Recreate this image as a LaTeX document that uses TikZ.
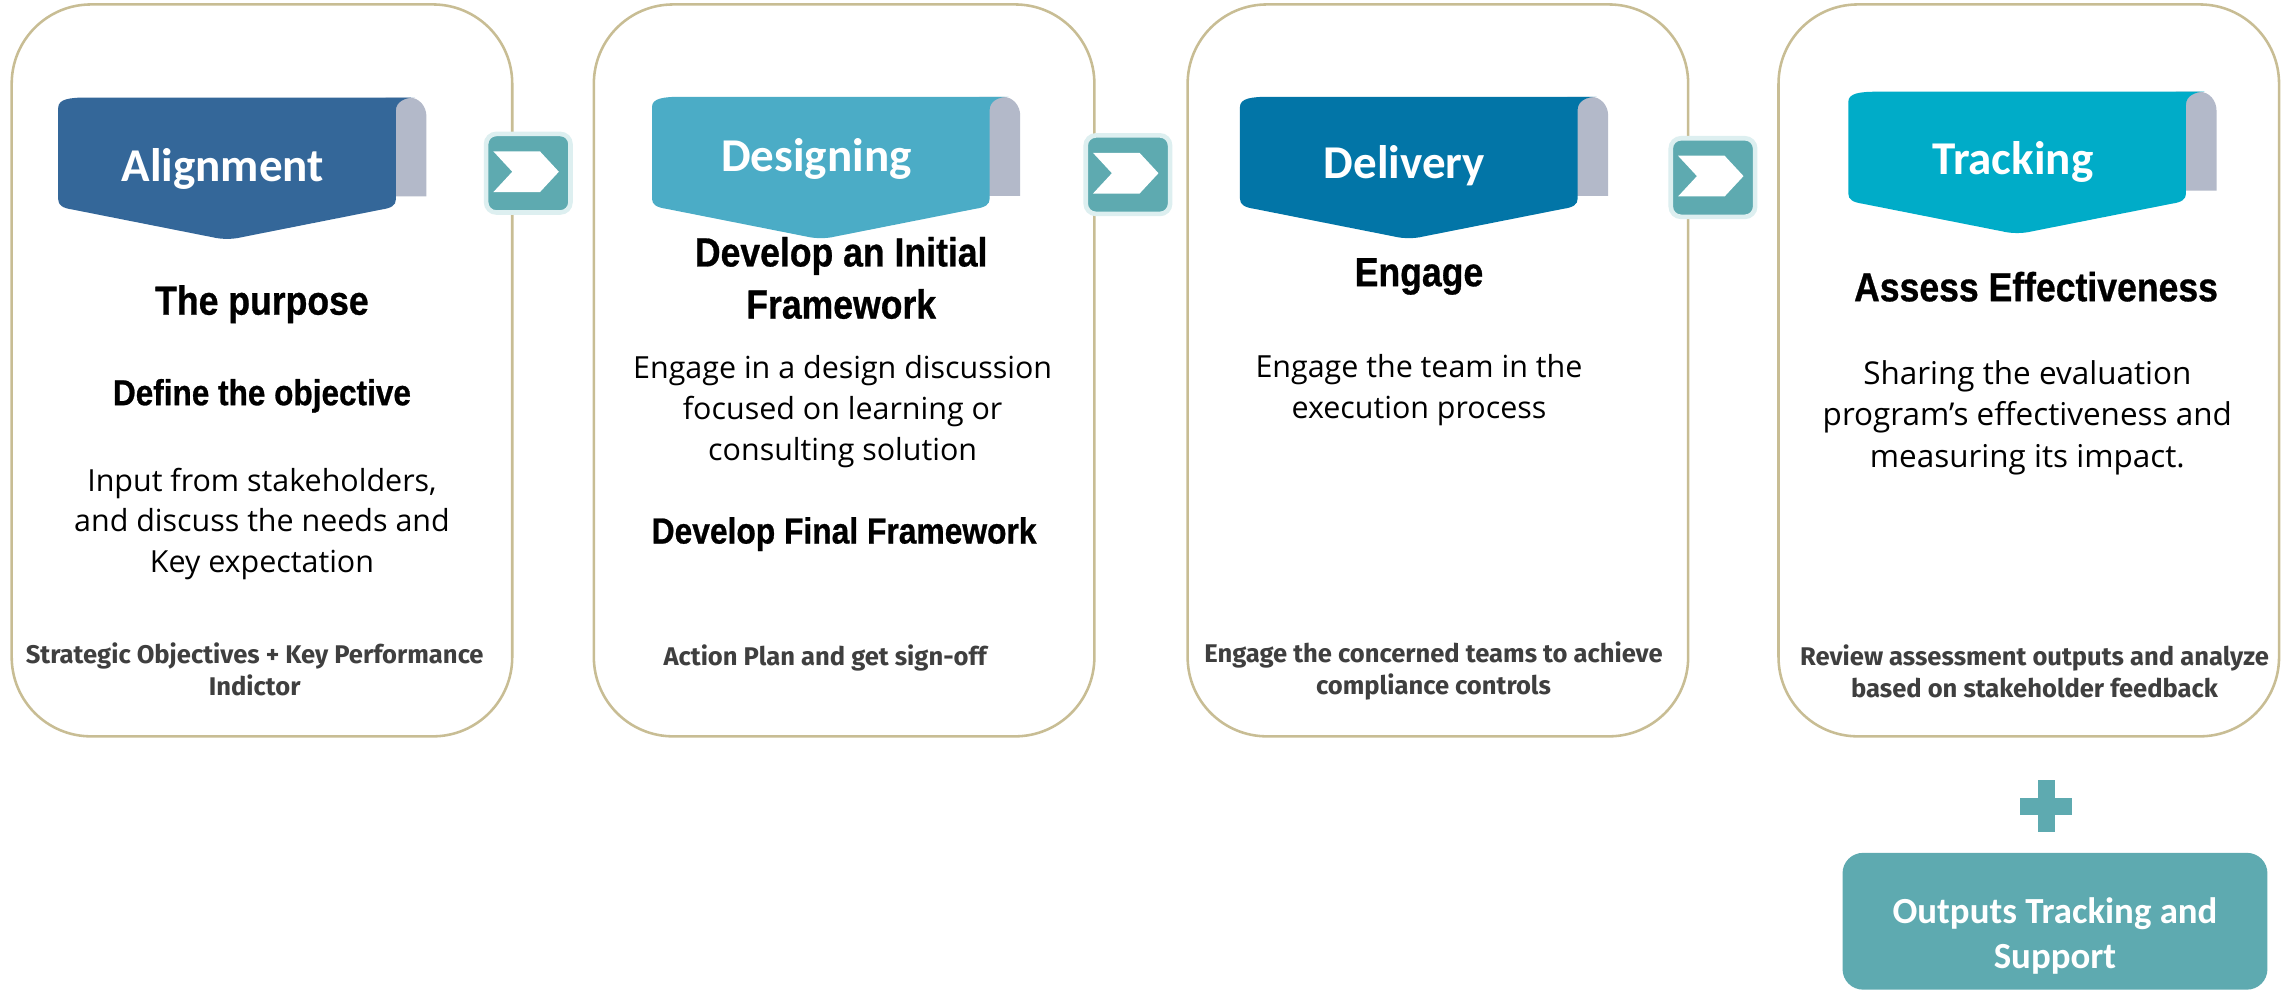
\documentclass[tikz,border=0pt]{standalone}
\usepackage{fontspec}
\setmainfont{Open Sans}
\newfontfamily\ribbonfont{Carlito}
\newfontfamily\headfont[FakeStretch=0.875, BoldFeatures={FakeBold=0.7}]{Liberation Sans}
\newfontfamily\notefont{Fira Sans}
\usepackage{tikz}
\usetikzlibrary{positioning,calc}
\definecolor{cardLine}{HTML}{C8BD94}
\definecolor{ribA}{HTML}{346799}
\definecolor{ribB}{HTML}{4BACC6}
\definecolor{ribC}{HTML}{0275A7}
\definecolor{ribD}{HTML}{00ACC8}
\definecolor{tabGray}{HTML}{B3B9C9}
\definecolor{tealBox}{HTML}{5EAAB0}
\definecolor{tealEdge}{HTML}{DDEFF0}
\definecolor{noteGray}{HTML}{3F3F3F}

\begin{document}
\begin{tikzpicture}[x=0.02cm,y=-0.02cm]
\tikzstyle{card}=[draw=cardLine, fill=white, line width=1pt, rounded corners=31pt, minimum width=6.88cm, minimum height=10.06cm, inner sep=0pt]
\tikzstyle{head}=[font=\headfont\bfseries\fontsize{15.9}{20.4}\selectfont, align=center, inner sep=0pt]
\tikzstyle{body}=[font=\fontsize{11.9}{16}\selectfont, align=center, inner sep=0pt]
\tikzstyle{note}=[font=\notefont\bfseries\fontsize{10}{12.5}\selectfont, text=noteGray, align=center, inner sep=0pt]
\tikzstyle{nextbox}=[fill=tealBox, draw=tealEdge, line width=1.8pt, rounded corners=4pt, minimum width=1.16cm, minimum height=1.08cm, inner sep=0pt]
\tikzstyle{ribbontxt}=[font=\ribbonfont\bfseries\fontsize{18.4}{22}\selectfont, text=white, inner sep=0pt]
\useasboundingbox (0,0) rectangle (1568,680);
% the four stage cards
\node[card] (card1) at (180,254.5) {};
\node[card] (card2) at (580,254.5) {};
\node[card] (card3) at (988,254.5) {};
\node[card] (card4) at (1394,254.5) {};
% ribbons with folded tab
\foreach \bx/\by/\col/\dy/\txt [count=\i] in {40/67/ribA/49/Alignment, 448/66.5/ribB/42.5/Designing, 852/66.5/ribC/47.5/Delivery, 1270/63/ribD/48/Tracking}{
  \begin{scope}[shift={(\bx,\by)}]
    \fill[tabGray] (225,68) -- (225,0) -- (241,0) .. controls (248,0) and (253,6) .. (253,13) -- (253,68) -- cycle;
    \fill[\col] (0,7) .. controls (0,1) and (8,0) .. (20,0) -- (245,0) .. controls (238,0) and (232,3) .. (232,9) -- (232,70) .. controls (232,74) and (229,76) .. (222,77) -- (126,96) .. controls (120,97.5) and (112,97.5) .. (106,96) -- (10,77) .. controls (3,76) and (0,74) .. (0,70) -- cycle;
    \node[ribbontxt] (rib\i) at (113,\dy) {\txt};
  \end{scope}
}
% arrows between cards
\node[nextbox] (next1) at (363,119) {};
\node[nextbox] (next2) at (775,120) {};
\node[nextbox] (next3) at (1177,122) {};
\foreach \n in {1,2,3}
  \fill[white, shift={(next\n.center)}] (-24,-15) -- (8,-15) -- (21,-1) -- (8,13) -- (-24,13) -- (-11,-1) -- cycle;
% card 1
\node[head] (c1head) at (180,209) {The purpose};
\node[head, font=\headfont\bfseries\fontsize{14.1}{18}\selectfont] (c1sub) at (180,272) {Define the objective};
\node[body] (c1body) at (180,360) {Input from stakeholders,\\and discuss the needs and\\Key expectation};
\node[note] (c1note) at (175,460) {Strategic Objectives + Key Performance\\Indictor};
% card 2
\node[head] (c2head) at (578,191) {Develop an Initial\\Framework};
\node[body] (c2body) at (579,283) {Engage in a design discussion\\focused on learning or\\consulting solution};
\node[head, font=\headfont\bfseries\fontsize{14.2}{18}\selectfont] (c2sub) at (580,367) {Develop Final Framework};
\node[note] (c2note) at (567,452) {Action Plan and get sign-off};
% card 3
\node[head] (c3head) at (975,190) {Engage};
\node[body] (c3body) at (975,268) {Engage the team in the\\execution process};
\node[note] (c3note) at (985,461) {Engage the concerned teams to achieve\\compliance controls};
% card 4
\node[head] (c4head) at (1399,197) {Assess Effectiveness};
\node[body, font=\fontsize{12.3}{16.2}\selectfont] (c4body) at (1393,287) {Sharing the evaluation\\program’s effectiveness and\\measuring its impact.};
\node[note] (c4note) at (1398,461) {Review assessment outputs and analyze\\based on stakeholder feedback};
% plus and support box
\node[fill=tealBox, minimum width=0.72cm, minimum height=0.24cm, inner sep=0pt] (plusH) at (1406,554) {};
\node[fill=tealBox, minimum width=0.24cm, minimum height=0.72cm, inner sep=0pt] (plusV) at (1406,554) {};
\node[fill=tealBox, rounded corners=8pt, minimum width=5.84cm, minimum height=1.88cm, inner sep=0pt] (outbox) at (1412,633) {};
\node[font=\ribbonfont\bfseries\fontsize{14.4}{17.6}\selectfont, text=white, align=center] (outtxt) at (1412,643) {Outputs Tracking and\\Support};
\end{tikzpicture}
\end{document}
